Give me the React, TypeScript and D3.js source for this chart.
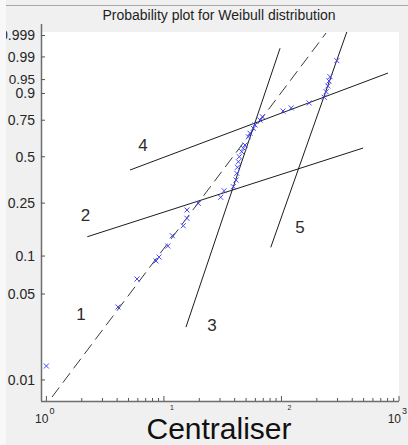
import React from 'react';
import * as d3 from 'd3';

const W = 408;
const H = 445;

// observed points: centraliser value and plotting probability
const CENTRALISER = [1.0, 4.07, 5.9, 8.57, 9.09, 10.8, 11.8, 14.6, 15.7, 15.7, 19.6, 30.4, 32.5, 39.0, 41.1,
  41.7, 42.2, 43.0, 43.8, 45.9, 47.4, 49.0, 52.3, 54.0, 57.7, 59.6, 65.7, 68.8, 103, 121,
  172, 231, 240, 248, 254, 259, 296];
const PROBABILITY = [0.013, 0.0393, 0.0659, 0.0915, 0.0983, 0.1197, 0.1435, 0.1708, 0.194, 0.2231, 0.249, 0.2747, 0.305, 0.3247, 0.3597,
  0.397, 0.433, 0.4678, 0.5, 0.5335, 0.5568, 0.5794, 0.637, 0.661, 0.6955, 0.718, 0.7515, 0.7726, 0.808, 0.826,
  0.8536, 0.8824, 0.9074, 0.9297, 0.9459, 0.9578, 0.9863];

// fitted lines (start / end)
const LINE_NAMES = ['1', '2', '3', '4', '5'];
const LINE_X = [[1.116, 239.7], [2.23, 495], [15.4, 97.3], [5.15, 807], [81.1, 359.5]];
const LINE_P = [[0.00723, 0.99929], [0.141, 0.5586], [0.027, 0.9956], [0.4167, 0.9664], [0.1169, 0.99938]];
const LABEL_X = [1.97, 2.15, 25.7, 6.64, 143.9];
const LABEL_P = [0.0308, 0.185, 0.0251, 0.538, 0.1505];

const Y_TICKS = [0.01, 0.05, 0.1, 0.25, 0.5, 0.75, 0.9, 0.95, 0.99, 0.999];
const Y_LABELS = ['0.01', '0.05', '0.1', '0.25', '0.5', '0.75', '0.9', '0.95', '0.99', '0.999'];
const X_DECADES = [0, 1, 2, 3];

const weib = (p: number) => Math.log(-Math.log(1 - p));

const App = () => {
  const left = 41, right = 399, top = 32, bottom = 401;

  const x = d3.scaleLog().domain([0.9, 1000]).range([left, right]);
  const y = d3.scaleLinear().domain([-5, 2]).range([bottom, top]);

  const minor: number[] = [];
  [1, 10, 100].forEach(d => d3.range(2, 10).forEach(k => minor.push(d * k)));

  const line = d3.line<[number, number]>()
    .x(d => x(d[0]))
    .y(d => y(weib(d[1])));

  const font = '"Liberation Sans", Arial, sans-serif';

  return (
    <div style={{ position: 'absolute', left: 0, top: 0 }}>
      <svg width={W} height={H} style={{ display: 'block' }} fontFamily={font}>
        <rect width={W} height={H} fill='#f0f0f0' />
        <line x1={5} x2={W} y1={5.5} y2={5.5} stroke='#a8a8a8' />
        <text x={219} y={20} textAnchor='middle' fontSize={14} fill='#1e1e1e'>
          Probability plot for Weibull distribution
        </text>

        <rect x={left} y={top} width={right - left} height={bottom - top} fill='#fff' />

        {/* y axis */}
        <line x1={left + 0.5} x2={left + 0.5} y1={24} y2={bottom} stroke='#6e6e6e' strokeWidth={1.5} />
        {Y_TICKS.map((t, i) => (
          <g key={t} transform={`translate(0,${y(weib(t))})`}>
            <line x1={left} x2={left + 4} stroke='#555' />
            <text x={35} dy='0.35em' textAnchor='end' fontSize={t === 0.95 ? 13.5 : 14} fill='#262626'>{Y_LABELS[i]}</text>
          </g>
        ))}

        {/* x axis */}
        <line x1={left} x2={right} y1={bottom + 0.5} y2={bottom + 0.5} stroke='#6e6e6e' strokeWidth={1.5} />
        {X_DECADES.map(e => (
          <line key={e} x1={x(10 ** e)} x2={x(10 ** e)} y1={bottom} y2={bottom - 5} stroke='#555' />
        ))}
        {minor.map(v => (
          <line key={v} x1={x(v)} x2={x(v)} y1={bottom} y2={bottom - 3} stroke='#555' />
        ))}
        {X_DECADES.map(e => {
          const xp = x(10 ** e);
          const hidden = e === 1 || e === 2;
          return (
            <g key={'l' + e} fill='#262626'>
              {!hidden && <text x={xp + 2} y={423} textAnchor='end' fontSize={12}>10</text>}
              <text x={xp + (hidden ? 6 : 3)} y={hidden ? 410 : 414} fontSize={hidden ? 7 : 9}>{e}</text>
            </g>
          );
        })}

        {/* fitted lines */}
        {LINE_NAMES.map((n, i) => (
          <path key={n}
            d={line([[LINE_X[i][0], LINE_P[i][0]], [LINE_X[i][1], LINE_P[i][1]]]) as string}
            fill='none'
            stroke={i === 0 ? '#3a3a3a' : '#1c1c1c'}
            strokeWidth={1}
            strokeDasharray={i === 0 ? '12,6' : undefined} />
        ))}

        {/* data points */}
        {CENTRALISER.map((c, i) => (
          <path key={i}
            transform={`translate(${x(c)},${y(weib(PROBABILITY[i]))})`}
            d='M-2.5,-2.5L2.5,2.5M-2.5,2.5L2.5,-2.5'
            stroke='#4646ff' strokeWidth={1} fill='none' />
        ))}

        {LINE_NAMES.map((n, i) => (
          <text key={'t' + n} x={x(LABEL_X[i])} y={y(weib(LABEL_P[i]))}
            textAnchor='middle' fontSize={17} fill='#2b2b2b'>{n}</text>
        ))}

        <rect x={0} y={0} width={6} height={H} fill='#f8f8f8' />

        <text x={219} y={439} textAnchor='middle' fontSize={30} fill='#111'>Centraliser</text>
      </svg>
    </div>
  );
};

export default App;
